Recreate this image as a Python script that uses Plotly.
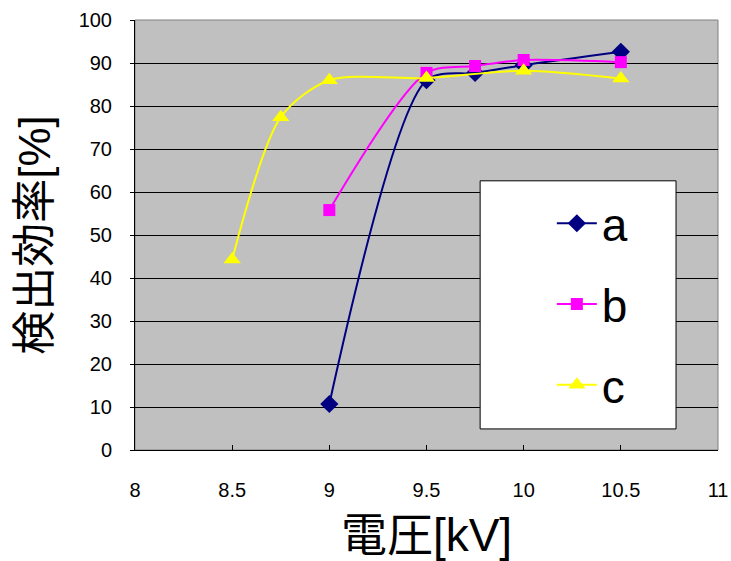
import plotly.graph_objects as go

# voltage [kV] vs detection efficiency [%]
volt_a = [9.0, 9.5, 9.75, 10.0, 10.5]
eff_a = [10.7, 86.0, 87.7, 89.5, 92.6]

volt_b = [9.0, 9.5, 9.75, 10.0, 10.5]
eff_b = [55.8, 87.7, 89.3, 90.7, 90.2]

volt_c = [8.5, 8.75, 9.0, 9.5, 10.0, 10.5]
eff_c = [44.3, 77.4, 86.0, 86.5, 88.2, 86.4]

x_ticks = [8, 8.5, 9, 9.5, 10, 10.5, 11]
y_ticks = list(range(0, 101, 10))

font = "Liberation Sans, Noto Sans CJK JP, sans-serif"

fig = go.Figure()
series = [
    ("a", volt_a, eff_a, "#000080", "diamond", 14),
    ("b", volt_b, eff_b, "#FF00FF", "square", 12),
    ("c", volt_c, eff_c, "#FFFF00", "triangle-up", 15),
]
for name, xs, ys, col, sym, sz in series:
    fig.add_trace(go.Scatter(
        x=xs, y=ys, name=name, mode="lines+markers",
        line=dict(color=col, width=2, shape="spline", smoothing=0.8),
        marker=dict(color=col, symbol=sym, size=sz),
        legendgroup=name,
    ))

# legend box (white, thin black border)
fig.add_shape(type="rect", xref="paper", yref="paper",
              x0=0.592, x1=0.928, y0=0.049, y1=0.626,
              fillcolor="white", line=dict(color="black", width=1), layer="above")

fig.update_layout(
    width=731, height=561,
    margin=dict(l=135, r=13, t=20, b=111),
    paper_bgcolor="white", plot_bgcolor="#C0C0C0",
    font=dict(family=font, color="black"),
    showlegend=True,
    legend=dict(x=0.715, y=0.612, xanchor="left", yanchor="top",
                bgcolor="rgba(0,0,0,0)", borderwidth=0,
                font=dict(size=46, family=font),
                tracegroupgap=18, traceorder="grouped",
                itemwidth=40),
    xaxis=dict(range=[8, 11], tickvals=x_ticks, ticktext=[str(v) for v in x_ticks],
               showgrid=False, zeroline=False, automargin=False,
               showline=True, linecolor="black", linewidth=1, mirror=False,
               ticks="inside", ticklen=5, tickcolor="black",
               tickfont=dict(size=20), ticklabelstandoff=22,
               ticklabeloverflow="allow",
               title=dict(text="電圧[kV]", font=dict(size=46), standoff=24)),
    yaxis=dict(range=[0, 100], tickvals=y_ticks, automargin=False,
               showgrid=True, gridcolor="black", gridwidth=1, zeroline=False,
               showline=True, linecolor="black", linewidth=1,
               ticks="outside", ticklen=4, tickcolor="black",
               tickfont=dict(size=20), ticklabelstandoff=14,
               title=dict(text="検出効率[%]", font=dict(size=44), standoff=14)),
)

# gray frame on top and right of plot area
fig.add_shape(type="rect", xref="paper", yref="paper", x0=0, x1=1, y0=0, y1=1,
              line=dict(color="#808080", width=1), layer="below")

# drop the default page margin so the figure fills the window
fig.write_html("out.html", config={"displayModeBar": False},
               post_script="document.body.style.margin='0';document.body.style.overflow='hidden';")
